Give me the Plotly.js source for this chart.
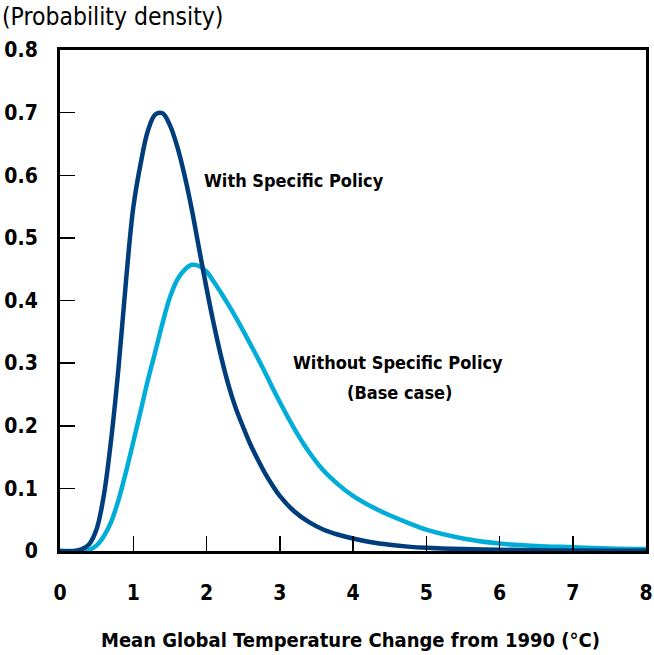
<!DOCTYPE html>
<html>
<head>
<meta charset="utf-8">
<script src="https://cdn.plot.ly/plotly-3.0.1.min.js"></script>
<style>html,body{margin:0;padding:0;background:#fff;}#chart{width:654px;height:655px;}</style>
</head>
<body>
<div id="chart"></div>
<script>
const temperature = [0, 0.2, 0.3, 0.4, 0.5, 0.6, 0.7, 0.8, 0.9, 1.0, 1.1, 1.2, 1.3, 1.4, 1.5, 1.6, 1.7, 1.8, 1.9, 2.0, 2.1, 2.2, 2.3, 2.4, 2.5, 2.6, 2.7, 2.8, 2.9, 3.0, 3.2, 3.4, 3.6, 3.8, 4.0, 4.25, 4.5, 4.75, 5.0, 5.5, 6.0, 6.5, 7.0, 7.5, 8.0];
const withPolicy = [0, 0, 0.003, 0.011, 0.035, 0.09, 0.18, 0.294, 0.43, 0.548, 0.618, 0.671, 0.697, 0.699, 0.68, 0.646, 0.60, 0.545, 0.482, 0.42, 0.362, 0.31, 0.265, 0.228, 0.198, 0.17, 0.146, 0.124, 0.105, 0.088, 0.063, 0.046, 0.034, 0.026, 0.020, 0.014, 0.010, 0.007, 0.005, 0.003, 0.002, 0.0012, 0.0008, 0.0005, 0.0003];
const withoutPolicy = [0, 0, 0, 0.002, 0.009, 0.024, 0.047, 0.082, 0.126, 0.174, 0.223, 0.273, 0.318, 0.364, 0.405, 0.433, 0.449, 0.457, 0.455, 0.446, 0.43, 0.412, 0.393, 0.373, 0.352, 0.33, 0.308, 0.285, 0.261, 0.238, 0.195, 0.158, 0.128, 0.106, 0.088, 0.071, 0.057, 0.045, 0.034, 0.02, 0.012, 0.008, 0.006, 0.004, 0.003];
const xTicks = [0, 1, 2, 3, 4, 5, 6, 7, 8];
const yTicks = [0, 0.1, 0.2, 0.3, 0.4, 0.5, 0.6, 0.7, 0.8];
const yTickLabels = ['0', '0.1', '0.2', '0.3', '0.4', '0.5', '0.6', '0.7', '0.8'];

const TEXTFONT = '"DejaVu Sans Condensed", "DejaVu Sans", sans-serif';
const TICKFONT = '"DejaVu Sans Condensed", "Liberation Sans", sans-serif';

const traces = [
  {x: temperature, y: withoutPolicy, mode: 'lines', line: {color: '#00acd8', width: 4.5, shape: 'spline', smoothing: 1}, name: 'Without Specific Policy (Base case)'},
  {x: temperature, y: withPolicy, mode: 'lines', line: {color: '#003d7c', width: 4.5, shape: 'spline', smoothing: 1}, name: 'With Specific Policy'}
];

const layout = {
  width: 654, height: 655,
  margin: {l: 60, r: 8, t: 50, b: 104},
  paper_bgcolor: '#ffffff', plot_bgcolor: '#ffffff',
  showlegend: false,
  font: {family: TEXTFONT, color: '#000'},
  xaxis: {
    range: [0, 8], tickvals: xTicks, ticktext: xTicks.map(String),
    ticks: 'inside', ticklen: 15, tickwidth: 1.5, tickcolor: '#000',
    showline: true, linewidth: 3, linecolor: '#000', mirror: true,
    showgrid: false, zeroline: false,
    tickfont: {family: TICKFONT, size: 21, color: '#000', weight: 'bold'},
    ticklabelstandoff: 21
  },
  yaxis: {
    range: [0, 0.8], tickvals: yTicks, ticktext: yTickLabels,
    ticks: 'inside', ticklen: 15, tickwidth: 1.5, tickcolor: '#000',
    showline: true, linewidth: 3, linecolor: '#000', mirror: true,
    showgrid: false, zeroline: false,
    tickfont: {family: TICKFONT, size: 21, color: '#000', weight: 'bold'},
    ticklabelstandoff: 15
  },
  annotations: [
    {text: '(Probability density)', xref: 'paper', yref: 'paper', x: -0.102, y: 1.066, xanchor: 'left', yanchor: 'middle', showarrow: false, font: {family: TEXTFONT, size: 24.5, color: '#000'}},
    {text: 'Mean Global Temperature Change from 1990 (°C)', xref: 'paper', yref: 'paper', x: 0.495, y: -0.178, xanchor: 'center', yanchor: 'middle', showarrow: false, font: {family: TEXTFONT, size: 20, color: '#000', weight: 'bold'}},
    {text: 'With Specific Policy', xref: 'x', yref: 'y', x: 3.19, y: 0.592, xanchor: 'center', yanchor: 'middle', showarrow: false, font: {family: TEXTFONT, size: 18, color: '#000', weight: 'bold'}},
    {text: 'Without Specific Policy', xref: 'x', yref: 'y', x: 4.62, y: 0.301, xanchor: 'center', yanchor: 'middle', showarrow: false, font: {family: TEXTFONT, size: 18, color: '#000', weight: 'bold'}},
    {text: '(Base case)', xref: 'x', yref: 'y', x: 4.64, y: 0.253, xanchor: 'center', yanchor: 'middle', showarrow: false, font: {family: TEXTFONT, size: 18, color: '#000', weight: 'bold'}}
  ]
};

Plotly.newPlot('chart', traces, layout, {staticPlot: true, displayModeBar: false});
</script>
</body>
</html>
